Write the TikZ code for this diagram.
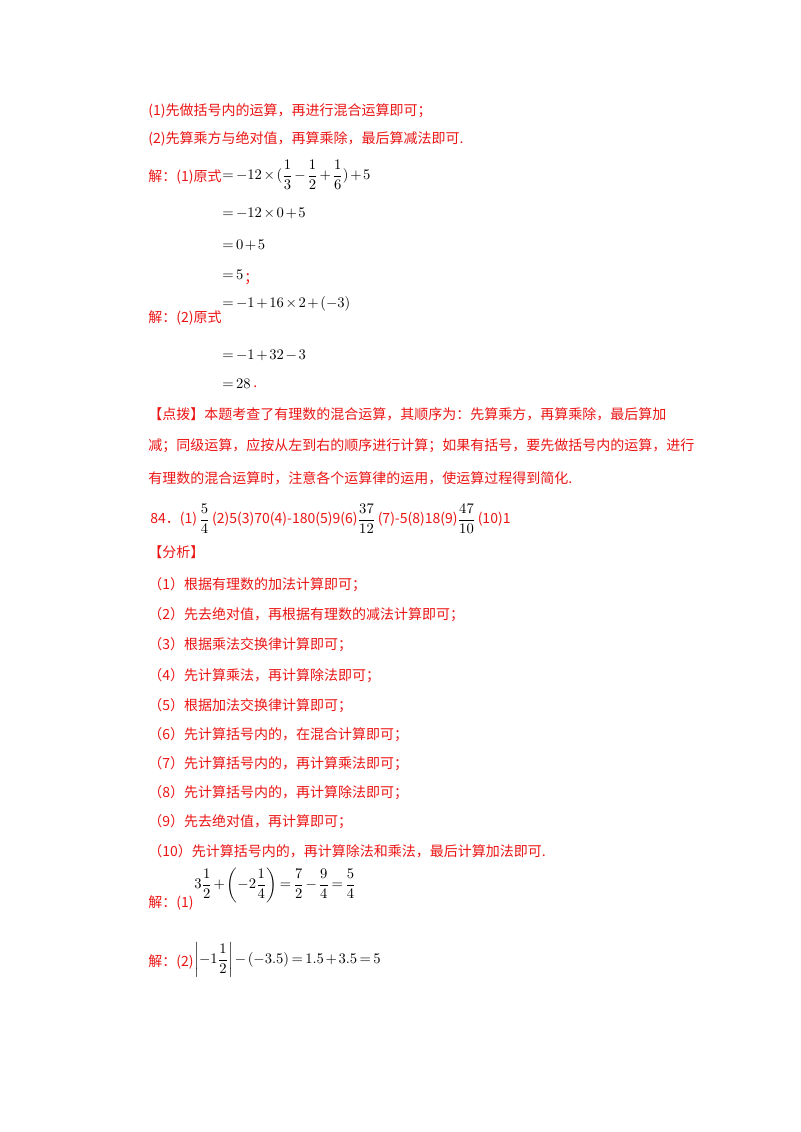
\documentclass[tikz,border=0pt]{standalone}
\usepackage{amsmath}
\usepackage{fontspec}
\setmainfont{Liberation Serif}
\newfontfamily\cjk{Noto Sans CJK SC}
\definecolor{rd}{RGB}{235,20,20}
\medmuskip=2mu plus 1mu
\thickmuskip=3mu plus 2mu
\begin{document}
\begin{tikzpicture}[x=0.75pt,y=-0.75pt,
  rt/.style={anchor=west,inner sep=0,text=rd,font=\cjk\fontsize{10.5pt}{13pt}\selectfont},
  mt/.style={anchor=west,inner sep=0,text=black,font=\fontsize{10.5pt}{13pt}\selectfont}]
\useasboundingbox (0,0) rectangle (800,1132);
\node[rt] (a1) at (148,111) {(1)先做括号内的运算，再进行混合运算即可；};
\node[rt] (a2) at (148,139) {(2)先算乘方与绝对值，再算乘除，最后算减法即可.};
\node[rt] (s1) at (148,177) {解：(1)原式};
\node[mt] (e1) at (222,175) {$=-12\times(\dfrac13-\dfrac12+\dfrac16)+5$};
\node[mt] (e2) at (222,213) {$=-12\times0+5$};
\node[mt] (e3) at (222,245) {$=0+5$};
\node[mt] (e4) at (222,275) {$=5$};
\node[rt] (e4s) at (244,279) {；};
\node[rt] (s2) at (148,318) {解：(2)原式};
\node[mt] (f1) at (222,304) {$=-1+16\times2+(-3)$};
\node[mt] (f2) at (222,355) {$=-1+32-3$};
\node[mt] (f3) at (222,384) {$=28$};
\node[rt] (f3s) at (253,387) {.};
\node[rt] (d1) at (148,414) {【点拨】本题考查了有理数的混合运算，其顺序为：先算乘方，再算乘除，最后算加};
\node[rt] (d2) at (148,446) {减；同级运算，应按从左到右的顺序进行计算；如果有括号，要先做括号内的运算，进行};
\node[rt] (d3) at (148,478) {有理数的混合运算时，注意各个运算律的运用，使运算过程得到简化.};
\node[rt] (n84) at (150,519) {84．(1)\,\textcolor{black}{$\dfrac54$}\,(2)5(3)70(4)-180(5)9(6)\textcolor{black}{$\dfrac{37}{12}$}\,(7)-5(8)18(9)\textcolor{black}{$\dfrac{47}{10}$}\,(10)1};
\node[rt] (fx) at (148,552) {【分析】};
\node[rt] (b1) at (148,585) {（1）根据有理数的加法计算即可；};
\node[rt] (b2) at (148,615) {（2）先去绝对值，再根据有理数的减法计算即可；};
\node[rt] (b3) at (148,645) {（3）根据乘法交换律计算即可；};
\node[rt] (b4) at (148,676) {（4）先计算乘法，再计算除法即可；};
\node[rt] (b5) at (148,706) {（5）根据加法交换律计算即可；};
\node[rt] (b6) at (148,735) {（6）先计算括号内的，在混合计算即可；};
\node[rt] (b7) at (148,764) {（7）先计算括号内的，再计算乘法即可；};
\node[rt] (b8) at (148,793) {（8）先计算括号内的，再计算除法即可；};
\node[rt] (b9) at (148,822) {（9）先去绝对值，再计算即可；};
\node[rt] (b10) at (148,851) {（10）先计算括号内的，再计算除法和乘法，最后计算加法即可.};
\node[rt] (j1) at (148,903) {解：(1)};
\node[mt] (g1) at (194,885) {$3\dfrac12+\left(-2\dfrac14\right)=\dfrac72-\dfrac94=\dfrac54$};
\node[rt] (j2) at (148,962) {解：(2)};
\node[mt] (g2) at (194,960) {$\left|-1\dfrac12\right|-\left(-3.5\right)=1.5+3.5=5$};
\end{tikzpicture}
\end{document}
